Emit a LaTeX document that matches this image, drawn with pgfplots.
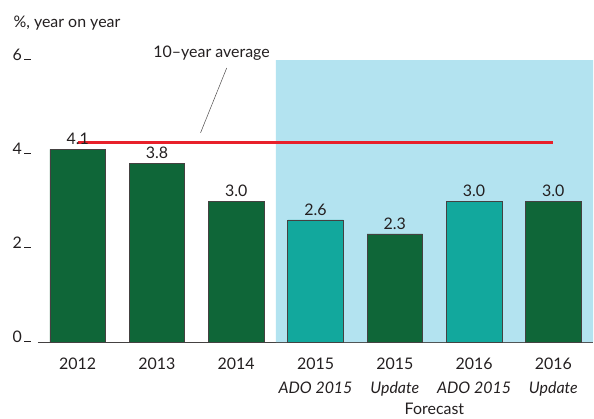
\documentclass[border=0pt]{standalone}
\usepackage{pgfplots}
\pgfplotsset{compat=1.18}
\usepackage{fontspec}
\setmainfont{Lato}
\definecolor{dgreen}{HTML}{0F6638}
\definecolor{teal2}{HTML}{12A89D}
\definecolor{lblue}{HTML}{B3E3F0}
\definecolor{redl}{HTML}{E8202A}
\definecolor{txt}{HTML}{231F20}
\begin{document}
\begin{tikzpicture}
\begin{axis}[
  scale only axis,
  width=555bp, height=282bp,
  xmin=-0.5, xmax=6.5, ymin=0, ymax=6,
  clip=false,
  axis x line*=bottom, axis y line*=left,
  y axis line style={draw=none},
  x axis line style={draw=txt!85, line width=0.7pt},
  ytick={0,2,4,6},
  yticklabels={{0\,\rule{7bp}{0.6bp}},{2\,\rule{7bp}{0.6bp}},{4\,\rule{7bp}{0.6bp}},{6\,\rule{7bp}{0.6bp}}},
  ytick style={draw=none},
  yticklabel style={anchor=base east, xshift=-3bp, font=\fontsize{16}{18}\selectfont, text=txt},
  xtick={0,...,6},
  xticklabels={2012,2013,2014,{2015\\\textit{ADO 2015}},{2015\\\textit{Update}},{2016\\\textit{ADO 2015}},{2016\\\textit{Update}}},
  xticklabel style={align=center, anchor=north, font=\fontsize{16}{25}\selectfont, text=txt, yshift=-12bp},
  major x tick style={draw=none},
  extra x ticks={-0.5,0.5,1.5,2.5,3.5,4.5,5.5},
  extra x tick labels={},
  extra x tick style={tick align=inside, major tick length=4bp, tick style={draw=txt!85, line width=0.6pt}},
]
% forecast shading
\addplot[fill=lblue, draw=none, forget plot] coordinates {(2.5,0) (2.5,6) (6.5,6) (6.5,0)} \closedcycle;
% actual / update bars (dark green)
\addplot[ybar, bar width=0.7, bar shift=0pt, fill=dgreen, draw=txt!85, line width=0.6pt,
  nodes near coords, nodes near coords style={font=\fontsize{16}{18}\selectfont, text=txt, yshift=1bp, /pgf/number format/.cd, fixed, fixed zerofill, precision=1, assume math mode=true}]
  coordinates {(0,4.1) (1,3.8) (2,3.0) (4,2.3) (6,3.0)};
% ADO 2015 forecast bars (teal)
\addplot[ybar, bar width=0.7, bar shift=0pt, fill=teal2, draw=txt!85, line width=0.6pt,
  nodes near coords, nodes near coords style={font=\fontsize{16}{18}\selectfont, text=txt, yshift=1bp, /pgf/number format/.cd, fixed, fixed zerofill, precision=1, assume math mode=true}]
  coordinates {(3,2.6) (5,3.0)};
% 10-year average
\addplot[draw=redl, line width=2.6pt, mark=none, sharp plot] coordinates {(0,4.24) (6,4.24)};
\draw[txt!80, line width=0.5pt] (axis cs:1.55,4.45) -- (axis cs:1.88,5.83);
\node[anchor=base, font=\fontsize{16}{18}\selectfont, text=txt] at (axis cs:1.69,6.05) {10–year average};
\node[anchor=base west, font=\fontsize{16}{18}\selectfont, text=txt] at ([shift={(-28bp,33bp)}]axis cs:-0.5,6) {\%, year on year};
\node[anchor=base, font=\fontsize{16}{18}\selectfont, text=txt] at ([yshift=-72bp]axis cs:4.5,0) {Forecast};
\end{axis}
\pgfresetboundingbox
\path ([shift={(-38bp,-76bp)}]current axis.south west) rectangle ([shift={(1bp,60bp)}]current axis.north east);
\end{tikzpicture}
\end{document}
